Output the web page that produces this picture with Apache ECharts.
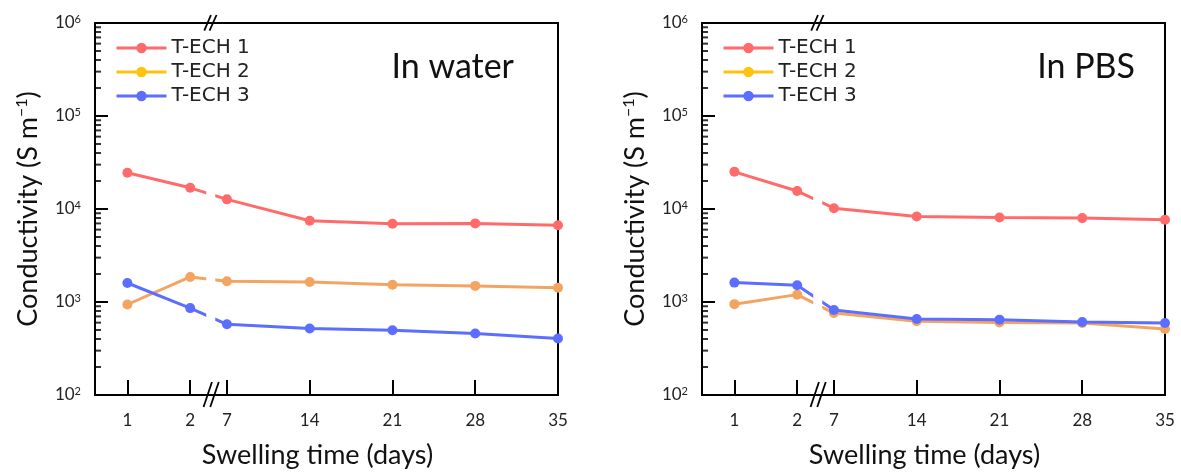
<!DOCTYPE html>
<html>
<head>
<meta charset="utf-8">
<script src="https://cdn.jsdelivr.net/npm/echarts@6/dist/echarts.min.js"></script>
<style>
  html, body { margin: 0; padding: 0; background: #fff; }
  #chart { width: 1181px; height: 474px; }
</style>
</head>
<body>
<div id="chart"></div>
<script>
// ---------------- data ----------------
const days = [1, 2, 7, 14, 21, 28, 35];
const tickLabels = ['1', '2', '7', '14', '21', '28', '35'];
const seriesNames = ['T-ECH 1', 'T-ECH 2', 'T-ECH 3'];
const waterTech1 = [24500, 16900, 12700, 7480, 6950, 7000, 6700];
const waterTech2 = [940, 1860, 1670, 1640, 1530, 1490, 1420];
const waterTech3 = [1600, 860, 576, 518, 497, 459, 405];
const pbsTech1 = [25100, 15600, 10200, 8320, 8110, 7980, 7650];
const pbsTech2 = [948, 1200, 760, 621, 601, 594, 513];
const pbsTech3 = [1617, 1513, 819, 656, 646, 610, 594];
const panelTitles = ['In water', 'In PBS'];
const yMin = 100, yMax = 1000000;

// ---------------- broken x-axis mapping ----------------
// days >= 7 are linear; days <= 2 are on a stretched segment before the break
function axisPos(day) {
  return day >= 7 ? day : 7 - 3.11 - (2 - day) * 5.31;
}
const breakPos = 5.63;
const xMin = -4.16, xMax = 35;
const tickPositions = days.map(axisPos);
function labelFor(v) {
  for (let i = 0; i < tickPositions.length; i++) {
    if (Math.abs(tickPositions[i] - v) < 1e-6) return tickLabels[i];
  }
  return '';
}

// minor log ticks (2..9 x each decade)
const minorTicks = [];
for (let d = 2; d < 6; d++) for (let k = 2; k <= 9; k++) minorTicks.push(k * Math.pow(10, d));

const colors = ['#FF6B6B', '#F4A461', '#5C6EFF'];
const legendColors = ['#FF6B6B', '#FFC20E', '#5C6EFF'];

const gridLefts = [95, 702];
const panels = [[waterTech1, waterTech2, waterTech3], [pbsTech1, pbsTech2, pbsTech3]];

const grids = [], xAxes = [], yAxes = [], series = [], legends = [], graphics = [];

gridLefts.forEach((left, gi) => {
  grids.push({
    left: left, top: 23, width: 463, height: 375,
    show: true, borderColor: '#000', borderWidth: 2, backgroundColor: 'transparent'
  });
  xAxes.push({
    gridIndex: gi, type: 'value', min: xMin, max: xMax,
    splitLine: { show: false },
    axisLine: { show: true, onZero: false, lineStyle: { color: '#000', width: 2 } },
    axisTick: { show: true, inside: true, length: 15, customValues: tickPositions, lineStyle: { color: '#000', width: 2 } },
    axisLabel: {
      customValues: tickPositions, formatter: labelFor, margin: 17,
      fontFamily: 'Lato', fontSize: 17, color: '#222'
    },
    name: 'Swelling time (days)', nameLocation: 'middle', nameGap: 47,
    nameTextStyle: { fontFamily: 'Lato', fontSize: 27, color: '#111', padding: [0, 18, 0, 0] }
  });
  yAxes.push({
    gridIndex: gi, type: 'log', logBase: 10, min: yMin, max: yMax, interval: 1,
    splitLine: { show: false },
    axisLine: { show: true, onZero: false, lineStyle: { color: '#000', width: 2 } },
    axisTick: { show: true, inside: true, length: 13, lineStyle: { color: '#000', width: 2 } },
    axisLabel: {
      margin: 14,
      formatter: function (v) {
        const e = Math.round(Math.log10(v));
        return '{b|10}{s|' + e + '}';
      },
      rich: {
        b: { fontFamily: 'Lato', fontSize: 17, color: '#222' },
        s: { fontFamily: 'Lato', fontSize: 11, color: '#222', verticalAlign: 'top', padding: [0, 0, 8, 0] }
      }
    },
    name: '{a|Conductivity (S m}{s|−1}{a|)}', nameLocation: 'middle', nameGap: 52,
    nameTextStyle: {
      rich: {
        a: { fontFamily: 'Lato', fontSize: 27, color: '#111' },
        s: { fontFamily: 'Lato', fontSize: 16, color: '#111', padding: [0, 0, 13, 0] }
      }
    }
  });

  panels[gi].forEach((vals, si) => {
    series.push({
      type: 'line', name: seriesNames[si], xAxisIndex: gi, yAxisIndex: gi,
      data: days.map((d, i) => [axisPos(d), vals[i]]),
      symbol: 'circle', symbolSize: 10,
      lineStyle: { color: colors[si], width: 3 },
      itemStyle: { color: colors[si] },
      z: 2 + si * 0.1
    });
  });

  // break: white gap in lines + "//" marks on top and bottom axes
  series.push({
    type: 'custom', xAxisIndex: gi, yAxisIndex: gi, clip: false, silent: true, z: 3,
    data: [[breakPos, yMin]],
    renderItem: function (params, api) {
      const p = api.coord([api.value(0), api.value(1)]);
      const cs = params.coordSys;
      const cx = p[0], bot = cs.y + cs.height, top = cs.y;
      const st = { stroke: '#000', lineWidth: 1.8 };
      return {
        type: 'group',
        children: [
          { type: 'rect', shape: { x: cx - 4.5, y: top + 3, width: 9, height: cs.height - 6 }, style: { fill: '#fff' } },
          { type: 'line', shape: { x1: cx - 7.2, y1: bot + 12, x2: cx + 1.2, y2: bot - 13 }, style: st },
          { type: 'line', shape: { x1: cx - 0.5, y1: bot + 12, x2: cx + 8.0, y2: bot - 13 }, style: st },
          { type: 'line', shape: { x1: cx - 6.5, y1: top + 7.7, x2: cx + 0.2, y2: top - 8 }, style: st },
          { type: 'line', shape: { x1: cx - 1.2, y1: top + 7.7, x2: cx + 5.8, y2: top - 8 }, style: st }
        ]
      };
    }
  });

  // minor log ticks on the left axis
  series.push({
    type: 'scatter', xAxisIndex: gi, yAxisIndex: gi, clip: false, silent: true, z: 6,
    data: minorTicks.map(v => [xMin, v]),
    symbol: 'rect', symbolSize: [6, 2], symbolOffset: [3, 0],
    itemStyle: { color: '#000' }
  });

  legends.push({
    left: left + 20, top: 38, padding: 0, z: 10, orient: 'vertical',
    itemWidth: 50, itemHeight: 13, itemGap: 4,
    data: seriesNames.map((n, i) => ({
      name: n,
      itemStyle: { color: legendColors[i] },
      lineStyle: { color: legendColors[i], width: 3 }
    })),
    textStyle: { fontFamily: 'DejaVu Sans', fontSize: 20, lineHeight: 20, color: '#222' },
    selectedMode: false
  });

  graphics.push({
    type: 'text', right: gi === 0 ? 1181 - 514 : 1181 - 1135, top: 50,
    style: { text: panelTitles[gi], fontFamily: 'Lato', fontSize: 34, fill: '#111' }
  });
});

const chart = echarts.init(document.getElementById('chart'), null, { renderer: 'canvas' });
chart.setOption({
  animation: false,
  backgroundColor: '#fff',
  grid: grids,
  xAxis: xAxes,
  yAxis: yAxes,
  legend: legends,
  series: series,
  graphic: graphics
});
</script>
</body>
</html>
